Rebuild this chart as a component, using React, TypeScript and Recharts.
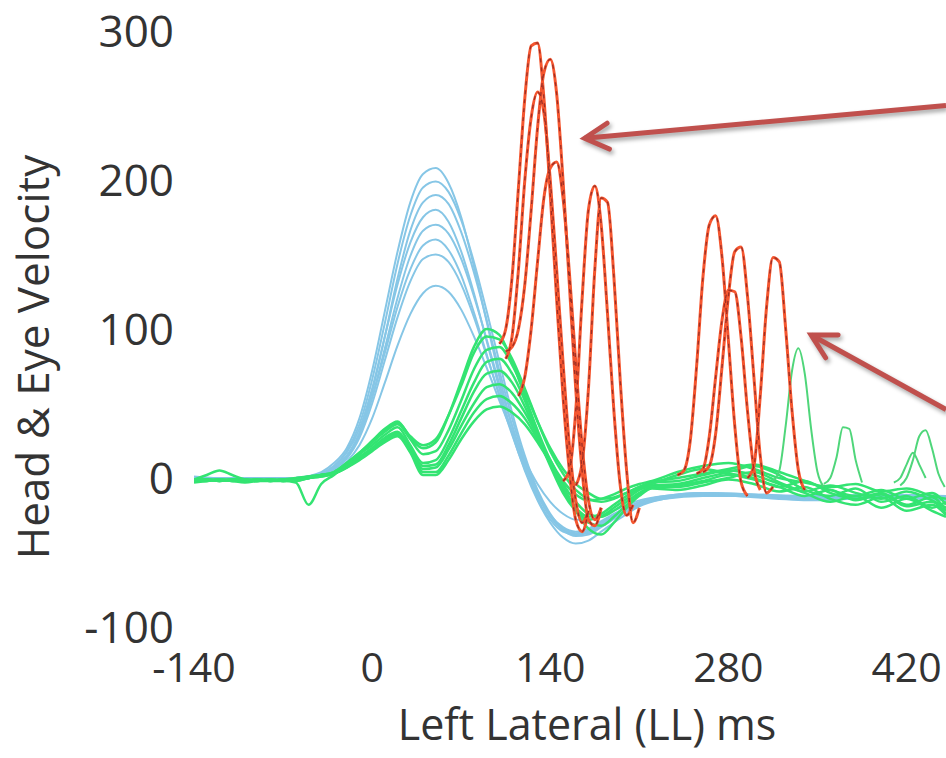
import { LineChart, Line, XAxis, YAxis, ReferenceLine } from "recharts";

// head impulse traces (blue), sampled on a shared time base (ms)
const HEAD_TIME = [-140, -100, -60, -40, -30, -20, -10, 0, 10, 20, 30, 40, 50, 60, 70, 80, 90, 100, 110, 120, 130, 140, 150, 160, 170, 180, 195, 210, 230, 260, 300, 350, 400, 451];
const HEAD_TRACES = [
  [0, -2, 0, 4, 10, 20, 40, 72, 112, 152, 185, 204, 208, 198, 175, 142, 105, 68, 35, 8, -14, -28, -36, -38, -36, -30, -22, -16, -12, -10, -12, -14, -12, -14],
  [1, -1, 0, 3, 8, 18, 36, 66, 104, 144, 176, 195, 199, 192, 173, 145, 112, 78, 44, 15, -8, -24, -34, -38, -37, -32, -24, -17, -13, -11, -13, -15, -13, -15],
  [0, -1, -1, 2, 6, 14, 30, 58, 95, 134, 166, 185, 190, 184, 165, 138, 106, 72, 40, 12, -10, -26, -35, -39, -38, -33, -25, -18, -13, -10, -11, -13, -12, -13],
  [-1, 0, 0, 3, 8, 17, 33, 60, 95, 130, 158, 175, 180, 172, 152, 124, 92, 60, 30, 5, -15, -30, -40, -44, -42, -36, -27, -19, -14, -11, -12, -14, -13, -14],
  [0, -1, 0, 2, 6, 14, 29, 54, 87, 121, 149, 166, 170, 164, 147, 122, 93, 63, 35, 10, -10, -25, -34, -38, -36, -31, -24, -18, -14, -12, -12, -13, -12, -14],
  [0, 0, 0, 3, 7, 15, 30, 54, 84, 115, 140, 156, 160, 153, 136, 111, 83, 55, 29, 6, -12, -26, -34, -37, -35, -30, -23, -17, -13, -11, -12, -14, -13, -15],
  [0, 0, -1, 2, 6, 13, 27, 50, 79, 108, 132, 147, 150, 145, 130, 108, 82, 56, 31, 8, -11, -25, -33, -36, -34, -29, -22, -17, -13, -11, -12, -13, -12, -14],
  [0, -1, 0, 2, 5, 11, 22, 40, 64, 89, 110, 124, 129, 125, 113, 95, 74, 52, 31, 12, -4, -16, -24, -28, -28, -25, -20, -15, -12, -10, -11, -12, -11, -12],
];

// eye traces (green)
const EYE_TIME = [-140, -130, -120, -110, -100, -90, -80, -70, -60, -50, -40, -30, -20, -10, 0, 10, 20, 30, 40, 50, 60, 70, 80, 90, 100, 110, 120, 130, 140, 150, 160, 170, 180, 190, 200, 210, 220, 240, 260, 280, 300, 320, 340, 360, 380, 400, 420, 440, 451];
const EYE_TRACES = [
  [-2, -1, -2, -1, -2, -1, -2, -1, 0, 1, 2, 4, 10, 17, 25, 33, 38, 27, 20, 24, 42, 65, 88, 100, 96, 78, 55, 32, 12, -2, -11, -15, -14, -11, -7, -4, -2, 4, 8, 10, 6, 0, -3, -6, -4, -9, -7, -12, -14],
  [-3, -2, -1, -2, -3, -2, -1, -2, -1, 0, 2, 3, 9, 16, 24, 32, 37, 28, 22, 26, 42, 62, 84, 95, 93, 80, 60, 38, 18, 3, -8, -14, -16, -14, -10, -6, -3, 0, 3, 6, 9, 4, -2, -8, -12, -8, -14, -10, -18],
  [-1, 2, 5, 2, -1, -2, -2, -1, -2, 0, 2, 4, 10, 17, 24, 31, 36, 26, 16, 18, 32, 52, 73, 86, 88, 76, 58, 38, 20, 6, -4, -10, -14, -13, -10, -6, -3, -2, 2, 5, 2, -4, -9, -5, -10, -14, -9, -15, -20],
  [-2, -2, -1, -2, -2, -1, -2, -2, -3, -18, -4, 2, 9, 16, 22, 29, 34, 22, 10, 12, 26, 45, 64, 78, 80, 70, 52, 30, 10, -8, -20, -26, -24, -18, -12, -7, -4, 2, 6, 3, 0, -6, -2, -10, -14, -10, -18, -13, -22],
  [-1, -1, -2, -1, -1, -2, -1, -1, -2, 0, 1, 3, 8, 14, 20, 27, 31, 20, 8, 9, 22, 40, 58, 70, 72, 64, 48, 28, 8, -10, -22, -28, -26, -20, -14, -8, -5, -4, 0, 4, 8, 2, -8, -12, -7, -16, -12, -20, -16],
  [-2, -1, -1, -1, -2, -1, -1, -2, -1, 0, 2, 3, 8, 14, 20, 26, 30, 19, 6, 7, 19, 35, 50, 61, 63, 57, 44, 28, 12, -4, -16, -24, -26, -22, -16, -10, -6, -5, -2, 2, -1, -6, -12, -8, -15, -11, -19, -16, -24],
  [-1, -2, -1, -2, -1, -1, -2, -1, -1, 1, 2, 3, 7, 13, 19, 25, 29, 18, 4, 4, 15, 30, 44, 53, 55, 50, 40, 26, 10, -6, -20, -30, -32, -26, -18, -11, -6, -6, -3, 0, 4, -3, -10, -16, -12, -20, -14, -22, -26],
  [-2, -1, -2, -1, -1, -2, -1, -2, -1, 0, 1, 3, 7, 12, 18, 24, 28, 17, 2, 2, 12, 26, 38, 46, 48, 44, 36, 24, 10, -6, -22, -34, -38, -30, -20, -12, -7, -8, -5, -1, -4, -9, -6, -14, -18, -13, -22, -18, -25],
];

// late green bumps
const EYE_BUMP_TIME = [
  [315, 320, 325, 330, 335, 340, 345, 350, 355],
  [355, 360, 365, 370, 375, 380, 385],
  [415, 420, 425, 430, 435, 440, 445, 450],
  [410, 415, 420, 425, 430, 435],
];
const EYE_BUMP_VALUES = [
  [-2, 5, 35, 72, 87, 70, 33, 4, -6],
  [-4, 0, 14, 34, 33, 12, -3],
  [-5, 0, 12, 28, 32, 20, 3, -6],
  [-3, 0, 9, 17, 9, 0],
];

// saccades (red)
const SACCADE_TIME = [
  [100, 105, 110, 115, 120, 125, 130, 135, 140, 145, 150, 155, 160, 165, 170],
  [105, 110, 115, 120, 125, 130, 135, 140, 145, 150, 155, 160, 165, 170, 175, 180],
  [105, 110, 115, 120, 125, 130, 135, 140, 145, 150, 155, 160, 165, 170],
  [115, 120, 125, 130, 135, 140, 145, 150, 155, 160, 165, 170, 175, 180],
  [150, 155, 160, 165, 170, 175, 180, 185, 190, 195, 200, 205],
  [160, 165, 170, 175, 180, 185, 190, 195, 200, 205, 210],
  [240, 245, 250, 255, 260, 265, 270, 275, 280, 285, 290, 295],
  [260, 265, 270, 275, 280, 285, 290, 295, 300, 305, 310, 315],
  [255, 260, 265, 270, 275, 280, 285, 290, 295, 300, 305],
  [295, 300, 305, 310, 315, 320, 325, 330, 335, 340],
];
const SACCADE_VALUES = [
  [90, 100, 135, 195, 255, 290, 292, 255, 190, 120, 55, 5, -28, -36, -22],
  [85, 88, 100, 130, 180, 235, 272, 281, 258, 200, 130, 60, 5, -28, -32, -20],
  [80, 95, 140, 200, 242, 259, 245, 200, 140, 78, 22, -15, -30, -22],
  [55, 68, 100, 145, 188, 208, 212, 188, 138, 78, 22, -15, -28, -20],
  [-2, 5, 45, 120, 180, 196, 170, 110, 45, -5, -25, -18],
  [-5, 10, 60, 140, 188, 185, 135, 65, 5, -30, -20],
  [2, 5, 25, 75, 135, 170, 176, 148, 92, 35, -3, -12],
  [4, 8, 30, 75, 122, 152, 155, 122, 68, 15, -10, -6],
  [3, 6, 28, 68, 106, 126, 125, 94, 45, 6, -8],
  [0, 8, 55, 115, 148, 145, 100, 45, 5, -8],
];

const X_TICKS = [-140, 0, 140, 280, 420];
const Y_TICKS = [-100, 0, 100, 200, 300];

// annotation arrows: [tail, head] in data units
const ARROWS = [
  [{ x: 451, y: 250 }, { x: 167, y: 228 }],
  [{ x: 451, y: 46 }, { x: 345, y: 96 }],
];

const toPoints = (t: number[], v: number[]) => t.map((x, i) => ({ t: x, v: v[i] }));

const FONT = "'Open Sans', 'Noto Sans', sans-serif";
const TEXT = "#333333";

function Arrow(props: any) {
  const { x1, y1, x2, y2 } = props;
  const back = Math.atan2(y1 - y2, x1 - x2);
  const len = 27;
  const spread = 0.5;
  const ax = x2 + len * Math.cos(back + spread);
  const ay = y2 + len * Math.sin(back + spread);
  const bx = x2 + len * Math.cos(back - spread);
  const by = y2 + len * Math.sin(back - spread);
  return (
    <g style={{ filter: "drop-shadow(2px 3px 2px rgba(0,0,0,0.35))" }}>
      <line x1={x1} y1={y1} x2={x2} y2={y2} stroke="#c0504d" strokeWidth={5} />
      <polyline
        points={`${ax},${ay} ${x2},${y2} ${bx},${by}`}
        fill="none"
        stroke="#c0504d"
        strokeWidth={5}
        strokeLinecap="round"
      />
    </g>
  );
}

export default function App() {
  return (
    <div style={{ width: 946, height: 758, background: "#fff" }}>
      <style>{"body{margin:0}"}</style>
      <LineChart width={946} height={758} margin={{ top: 31, right: 0, bottom: 0, left: 0 }}>
        <XAxis
          type="number"
          dataKey="t"
          domain={[-140, 451]}
          ticks={X_TICKS}
          allowDataOverflow
          axisLine={false}
          tickLine={false}
          tickSize={0}
          tickMargin={26}
          height={131}
          tick={{ fontSize: 41, fill: TEXT, fontFamily: FONT }}
          label={{
            value: "Left Lateral (LL) ms",
            position: "insideBottom",
            offset: 18,
            dx: 17,
            fontSize: 43,
            fill: TEXT,
            fontFamily: FONT,
          }}
        />
        <YAxis
          type="number"
          domain={[-100, 300]}
          ticks={Y_TICKS}
          allowDataOverflow
          axisLine={false}
          tickLine={false}
          tickSize={0}
          tickMargin={20}
          width={194}
          tick={{ fontSize: 44, fill: TEXT, fontFamily: FONT }}
          label={{
            value: "Head & Eye Velocity",
            angle: -90,
            position: "insideLeft",
            offset: 0,
            dx: 33,
            dy: 28,
            fontSize: 44,
            fill: TEXT,
            fontFamily: FONT,
            style: { textAnchor: "middle" },
          }}
        />
        {HEAD_TRACES.map((v, i) => (
          <Line
            key={`head-${i}`}
            data={toPoints(HEAD_TIME, v)}
            dataKey="v"
            type="monotone"
            stroke="#86c6e6"
            strokeWidth={2}
            dot={false}
            isAnimationActive={false}
          />
        ))}
        {EYE_TRACES.map((v, i) => (
          <Line
            key={`eye-${i}`}
            data={toPoints(EYE_TIME, v)}
            dataKey="v"
            type="monotone"
            stroke="#33e472"
            strokeWidth={2.5}
            dot={false}
            isAnimationActive={false}
          />
        ))}
        {EYE_BUMP_VALUES.map((v, i) => (
          <Line
            key={`bump-${i}`}
            data={toPoints(EYE_BUMP_TIME[i], v)}
            dataKey="v"
            type="monotone"
            stroke="#4fd67a"
            strokeWidth={2}
            dot={false}
            isAnimationActive={false}
          />
        ))}
        {SACCADE_VALUES.map((v, i) => (
          <Line
            key={`sac-${i}`}
            data={toPoints(SACCADE_TIME[i], v)}
            dataKey="v"
            type="monotone"
            stroke="#f5562f"
            strokeWidth={3}
            dot={false}
            isAnimationActive={false}
          />
        ))}
        {SACCADE_VALUES.map((v, i) => (
          <Line
            key={`sac-dash-${i}`}
            data={toPoints(SACCADE_TIME[i], v)}
            dataKey="v"
            type="monotone"
            stroke="#9e2f25"
            strokeWidth={1.3}
            strokeDasharray="4 5"
            dot={false}
            isAnimationActive={false}
          />
        ))}
        {ARROWS.map((seg, i) => (
          <ReferenceLine key={`arrow-${i}`} segment={seg} shape={Arrow} ifOverflow="visible" />
        ))}
      </LineChart>
    </div>
  );
}
